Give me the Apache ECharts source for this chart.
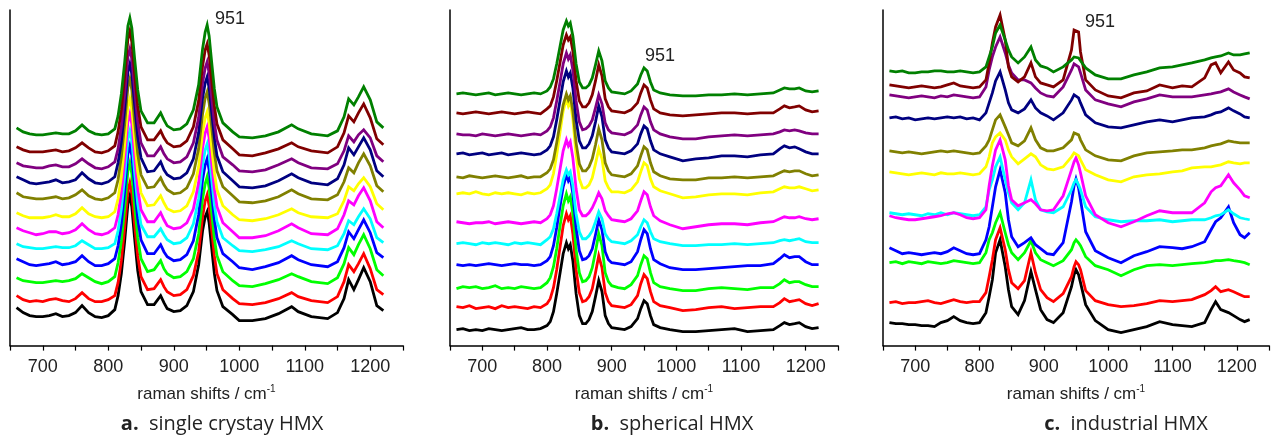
<!DOCTYPE html>
<html><head><meta charset="utf-8">
<script src="https://cdn.jsdelivr.net/npm/echarts@6/dist/echarts.min.js"></script>
<style>html,body{margin:0;padding:0;background:#fff}#c{width:1272px;height:437px}</style>
</head><body><div id="c"></div>
<script>
// ---------- series colours (bottom to top) ----------
const seriesNames = ['black','red','lime','blue','cyan','magenta','yellow','olive','navy','purple','darkred','green'];
const seriesColors = ['#000000','#ff0000','#00ff00','#0000ff','#00ffff','#ff00ff','#ffff00','#808000','#000080','#800080','#800000','#008000'];

// ---------- panel a : single crystal HMX ----------
const xA = [660,670,680,690,700,710,720,730,740,750,760,770,780,790,800,810,815,820,825,830,833,836,840,845,850,860,870,880,885,890,900,910,920,930,938,944,948,951,954,958,962,966,975,990,1000,1020,1040,1060,1080,1090,1110,1135,1150,1160,1167,1175,1182,1190,1200,1210,1220];
const offsetA = [29,44,63,81,97,112,128,147,163,178,194,211];
const a_black  = [9,4,1,0,0,1,3,0,1,4,11,4,0,-1,1,7,21,43,75,113,121,110,80,46,25,12,12,21,14,8,5,6,11,25,52,86,100,105,94,68,43,26,10,2,-4,-4,-2,3,10,5,0,-2,4,18,37,27,37,49,35,11,6];
const a_red    = [6,2,0,1,0,2,3,1,0,3,9,3,0,0,2,6,19,41,74,111,119,109,79,46,25,12,13,22,15,10,6,7,12,26,50,85,101,107,96,71,46,28,12,3,-2,-3,-1,3,9,5,1,-1,5,20,37,30,38,48,33,12,7];
const a_lime   = [5,2,1,0,0,1,2,1,2,4,9,5,1,-1,1,6,20,42,74,112,120,109,79,45,24,11,13,22,14,9,5,6,11,24,49,84,99,106,95,70,44,27,11,2,-3,-4,-1,3,9,6,1,-1,5,19,35,28,38,48,34,13,7];
const a_blue   = [6,3,0,-1,0,1,3,0,1,3,9,3,-1,-1,1,6,19,41,73,111,119,109,80,46,25,11,11,20,13,8,4,5,10,24,50,85,100,106,95,70,45,27,11,3,-3,-5,-2,2,9,5,0,-2,3,17,33,26,35,45,32,12,7];
const a_cyan   = [5,2,1,0,0,1,2,1,1,3,8,4,0,0,1,5,18,40,72,110,118,108,78,45,24,12,12,20,14,9,5,6,11,25,50,84,99,105,94,69,44,27,11,3,-2,-3,-1,2,8,5,0,-1,3,15,28,24,32,40,30,11,6];
const a_magenta= [6,3,1,-1,0,2,2,0,1,4,10,4,0,-1,1,6,19,41,74,112,120,110,80,45,24,12,12,21,14,8,5,6,11,25,51,86,101,107,96,70,45,27,11,2,-4,-4,-2,3,10,6,0,-1,5,19,33,29,38,46,33,12,6];
const a_yellow = [5,2,0,0,0,1,3,1,1,4,10,4,1,0,1,6,19,41,73,111,119,109,80,46,25,12,13,22,15,9,6,7,12,26,51,85,100,106,95,70,45,28,12,3,-2,-3,-1,3,9,5,1,0,4,17,31,27,34,40,31,14,8];
const a_olive  = [6,2,1,0,0,1,2,0,1,4,9,3,0,-1,1,6,19,42,74,112,120,109,79,45,24,11,12,21,14,9,5,6,11,25,50,85,101,107,96,71,46,28,12,3,-3,-4,-2,2,9,5,0,-1,4,17,31,26,36,45,33,13,7];
const a_navy   = [6,3,0,-1,0,1,3,0,1,3,10,4,0,-1,1,6,20,41,73,111,119,109,80,46,25,11,12,21,13,8,4,5,10,24,50,85,100,106,95,70,45,27,11,2,-4,-5,-3,2,9,5,0,-2,4,18,35,28,36,45,33,12,6];
const a_purple = [5,2,1,0,0,2,3,1,1,4,9,4,0,-1,1,6,19,41,73,111,119,109,80,46,25,12,12,21,14,9,5,6,11,25,50,85,100,106,95,70,45,28,11,3,-3,-4,-2,3,9,5,0,-1,4,17,32,26,33,38,30,12,6];
const a_darkred= [5,2,0,0,0,1,2,0,1,4,9,4,0,-1,1,6,20,42,75,113,121,110,80,46,25,12,12,21,14,9,5,6,11,25,51,86,102,108,97,71,46,28,12,3,-3,-4,-1,3,9,5,1,-1,5,19,36,30,39,48,34,13,7];
const a_green  = [7,3,1,0,0,1,2,1,1,4,10,4,1,0,1,6,19,41,72,109,117,107,78,45,24,12,12,22,15,9,5,6,11,25,50,86,103,110,99,72,46,28,12,3,-2,-3,-1,3,10,6,1,-1,4,18,36,30,38,48,35,13,7];

// ---------- panel b : spherical HMX ----------
const xB = [660,670,680,690,700,710,720,730,740,750,760,770,780,790,800,805,810,815,820,825,830,833,836,840,845,850,855,860,865,870,875,880,885,890,895,900,910,920,930,940,945,950,955,960,965,975,990,1010,1030,1050,1070,1090,1110,1130,1150,1160,1167,1175,1183,1190,1200,1210,1220];
const offsetB = [16,38,58,81,102,123,152,169,192,211,233,252];
const b_black  = [0,1,-1,0,-1,1,0,-1,0,1,2,0,0,1,4,8,18,36,56,76,87,81,85,69,36,14,6,6,10,18,33,49,38,14,6,2,1,0,3,11,21,29,26,14,5,2,0,-2,-2,-1,0,1,-2,-1,0,4,7,5,6,7,3,1,2];
const b_red    = [1,0,2,-1,0,1,-1,2,0,1,0,-1,1,0,4,9,20,38,60,82,94,88,92,74,38,15,6,7,11,19,35,52,40,15,6,2,1,0,3,12,24,33,29,16,6,2,0,-3,-2,0,1,-1,0,1,1,5,9,6,7,8,4,2,4];
const b_lime   = [-1,1,0,1,-1,0,2,-1,0,-1,1,0,-1,0,5,10,21,39,61,82,94,87,91,74,38,15,6,7,11,20,36,54,42,15,6,2,0,-1,3,12,23,32,29,15,5,1,-1,-3,-3,-1,0,-1,-2,0,0,4,8,5,6,6,3,1,1];
const b_blue   = [0,-1,0,-1,0,1,0,-1,0,1,0,0,-1,0,4,8,19,37,58,78,90,84,88,71,37,14,5,6,9,16,30,45,35,13,5,2,1,0,3,13,25,35,31,16,5,1,-3,-5,-5,-4,-3,-2,-1,-1,1,6,10,7,8,8,3,0,0];
const b_cyan   = [0,1,0,-1,1,0,1,0,-1,1,0,1,0,-1,4,7,15,30,47,64,74,69,72,58,30,12,5,5,8,13,22,32,25,10,5,2,1,0,3,9,17,24,21,12,5,2,0,-2,-2,-1,-1,0,-1,0,1,3,4,3,4,5,2,1,1];
const b_magenta= [1,0,-1,0,0,1,-1,0,1,0,-1,0,1,0,4,8,17,34,53,72,83,77,81,65,34,13,7,7,10,15,22,30,24,12,7,3,2,1,4,12,22,31,28,16,7,2,-2,-6,-4,-2,-1,-1,-2,0,1,4,6,5,5,6,4,3,4];
const b_yellow = [0,1,0,2,0,-1,1,0,1,0,-1,1,0,1,5,9,20,39,61,83,95,88,93,75,39,15,6,6,9,16,30,45,35,13,6,2,2,1,4,12,22,31,28,15,7,3,0,-4,-3,-1,0,0,-1,1,2,5,7,6,6,7,5,3,4];
const b_olive  = [0,-1,1,0,-1,0,1,0,-1,0,1,-1,0,0,4,8,17,34,53,72,83,77,81,66,34,13,6,6,10,18,32,48,37,14,6,2,1,0,3,11,21,30,27,14,5,1,-2,-3,-3,-1,-1,0,-1,0,1,4,6,5,6,6,3,1,2];
const b_navy   = [0,1,-1,0,1,-1,0,1,-1,0,1,0,-1,0,4,8,17,34,53,72,83,77,81,66,34,13,6,6,10,18,32,48,37,14,6,2,1,0,3,10,20,28,25,13,4,0,-3,-7,-5,-4,-2,-2,-3,-1,0,5,8,6,7,5,2,0,0];
const b_purple = [1,0,0,-1,1,0,-1,0,1,0,-1,0,1,0,4,8,17,34,52,71,82,76,80,65,34,13,5,6,9,15,27,40,31,12,5,2,1,0,3,10,20,28,25,13,5,1,-2,-4,-4,-2,-1,0,-1,0,1,3,5,4,5,4,2,1,1];
const b_darkred= [0,-1,0,1,0,-1,0,1,0,-1,0,1,0,-1,4,7,16,32,50,68,78,73,76,62,32,12,6,6,10,18,32,48,37,14,6,2,1,0,3,10,20,28,25,13,4,0,-2,-3,-2,-1,0,0,-1,0,0,4,7,5,6,7,3,1,2];
const b_green  = [0,1,0,-1,0,1,-1,0,1,0,-1,0,1,0,3,7,15,30,47,64,73,68,71,58,30,12,6,6,9,16,29,43,33,13,6,2,1,0,3,10,19,26,23,12,4,1,-1,-2,-2,-1,-1,0,-1,0,1,4,6,5,5,6,3,2,3];

// ---------- panel c : industrial HMX ----------
const xC = [660,670,680,690,700,710,720,730,740,750,760,770,780,790,800,810,815,820,825,832,840,845,850,860,870,880,887,895,905,915,930,943,947,950,954,957,965,980,1000,1020,1040,1060,1080,1100,1115,1130,1150,1160,1167,1175,1187,1195,1205,1212,1220];
const offsetC = [21,43,83,92,131,128,172,193,228,249,259,274];
const c_black  = [2,1,1,0,0,-1,-1,-2,2,4,8,4,2,1,2,12,28,45,72,85,58,35,18,10,24,53,35,15,5,2,12,38,50,55,50,42,20,4,-5,-8,-5,-2,3,0,-1,-2,2,15,23,15,12,9,5,3,5];
const c_red    = [0,1,-1,0,0,1,2,0,-1,1,3,1,0,1,1,10,26,43,63,75,53,33,20,14,22,50,30,13,5,1,9,26,36,41,38,33,12,2,-2,-4,-3,-1,2,1,2,3,8,12,16,11,13,11,8,6,6];
const c_lime   = [0,1,-1,1,0,-1,1,0,-1,0,2,1,0,-1,0,10,23,30,40,50,30,18,10,3,10,22,10,3,0,-3,2,13,20,23,20,17,6,-3,-7,-13,-7,-3,-2,-3,-2,-1,0,1,2,2,3,2,1,0,-2];
const c_blue   = [6,3,0,1,0,-1,0,1,0,2,6,3,0,-1,0,14,27,47,67,84,61,34,17,7,11,16,9,5,0,-1,11,52,68,75,66,54,22,3,-4,-9,-2,2,7,6,5,7,12,24,32,36,47,31,19,16,21];
const c_cyan   = [2,1,0,1,0,-1,1,0,2,0,2,1,0,-1,0,8,25,35,48,58,35,22,12,5,12,35,15,5,3,2,8,25,32,35,30,25,8,-2,-5,-7,-6,-6,-5,-7,-6,-5,-5,-3,-1,0,5,1,-3,-4,-5];
const c_magenta= [2,0,-1,-2,-2,-1,0,1,2,4,5,3,0,-1,0,8,32,52,68,78,58,32,18,12,15,18,14,8,7,8,22,48,56,60,53,45,22,3,-5,-9,-4,2,7,5,5,5,15,26,30,32,43,35,28,22,20];
const c_yellow = [2,1,0,-1,0,1,0,-1,1,0,0,1,0,-1,0,7,17,31,37,41,34,24,17,10,15,20,17,9,5,4,7,17,21,22,18,14,4,-1,-6,-8,-3,-1,0,2,3,6,7,7,8,9,12,11,10,11,11];
const c_olive  = [2,1,0,1,0,-1,0,1,2,1,2,1,0,-1,0,7,13,23,33,38,26,18,10,7,12,25,13,5,2,2,5,13,20,22,18,13,3,-3,-7,-8,-3,0,1,2,3,3,5,7,8,9,12,11,10,10,10];
const c_navy   = [0,1,-1,0,-2,-1,0,-1,0,1,0,1,-1,0,-2,5,15,25,37,46,28,15,8,5,9,18,10,5,2,-2,5,18,23,25,20,15,3,-5,-9,-10,-7,-4,-2,-4,-2,0,1,3,5,6,10,7,4,1,0];
const c_purple = [2,1,0,-1,0,1,0,-1,1,0,2,1,0,-1,0,10,27,40,50,60,44,32,24,17,17,14,9,4,1,0,10,27,33,35,30,24,7,-3,-7,-10,-5,-2,2,0,0,0,2,3,4,5,8,5,2,0,-2];
const c_darkred= [2,1,0,-1,0,1,0,-1,0,2,4,1,0,-1,0,7,24,44,60,72,47,20,10,5,10,24,10,4,2,0,7,37,57,58,55,35,7,-3,-9,-11,-6,-4,2,-1,1,0,9,22,24,14,25,17,14,10,9];
const c_green  = [1,0,1,-1,-1,0,0,1,1,0,0,1,0,-1,0,5,15,25,39,47,32,22,15,9,15,25,12,6,4,0,5,12,15,17,14,12,4,-3,-7,-7,-3,0,4,5,7,9,12,14,15,16,19,17,17,18,19];

// ---------- labels ----------
const tickLabels = [700,800,900,1000,1100,1200];
const axisTitle = 'raman shifts / cm';
const panelTitles = [['a.','single crystay HMX'],['b.','spherical HMX'],['c.','industrial HMX']];
const peakLabel = '951';

// ---------- build ----------
const panels = [
  {x:xA, off:offsetA, s:[a_black,a_red,a_lime,a_blue,a_cyan,a_magenta,a_yellow,a_olive,a_navy,a_purple,a_darkred,a_green]},
  {x:xB, off:offsetB, s:[b_black,b_red,b_lime,b_blue,b_cyan,b_magenta,b_yellow,b_olive,b_navy,b_purple,b_darkred,b_green]},
  {x:xC, off:offsetC, s:[c_black,c_red,c_lime,c_blue,c_cyan,c_magenta,c_yellow,c_olive,c_navy,c_purple,c_darkred,c_green]}
];
const NARROW = "'Liberation Sans Narrow','Arial Narrow','Liberation Sans',Arial,sans-serif";
const gridDefs = [
  {left:10, top:10, width:393, height:335.6},
  {left:450, top:10, width:388, height:335.6},
  {left:883, top:10, width:392.4, height:335.6}
];
const series = [];
panels.forEach((p, gi) => {
  p.s.forEach((vals, si) => {
    series.push({
      type:'line', name: seriesNames[si] + gi, xAxisIndex: gi, yAxisIndex: gi,
      showSymbol:false, symbol:'none', silent:true, animation:false,
      lineStyle:{color:seriesColors[si], width:2.8, join:'miter'},
      data: p.x.map((x,k)=>[x, vals[k] + p.off[si]])
    });
  });
});
const xAxes = gridDefs.map((g,i)=>({
  gridIndex:i, type:'value', min:650, max:1250, interval:50,
  axisLine:{lineStyle:{color:'#000', width:1.5}},
  axisTick:{show:true, length:5, lineStyle:{color:'#000', width:1.2}},
  axisLabel:{formatter: v => tickLabels.indexOf(v) >= 0 ? String(v) : '', fontSize:18, fontFamily:NARROW, color:'#222', margin:12},
  splitLine:{show:false},
  name: axisTitle + '{sup|-1}', nameLocation:'middle', nameGap:39,
  nameTextStyle:{fontSize:17, fontFamily:NARROW, color:'#222', rich:{sup:{fontSize:10, fontFamily:NARROW, color:'#222', verticalAlign:'top', lineHeight:20}}}
}));
const yAxes = gridDefs.map((g,i)=>({
  gridIndex:i, type:'value', min:0, max:336,
  axisLine:{show:true, lineStyle:{color:'#000', width:1.5}},
  axisTick:{show:false}, axisLabel:{show:false}, splitLine:{show:false}
}));
const subPos = [[222,424],[672,424],[1126,424]];
const peakPos = [[230,19],[660,56],[1100,22]];
const graphic = [];
panelTitles.forEach((t,i)=>{
  graphic.push({type:'text', silent:true, style:{
    text:'{b|'+t[0]+'}  '+t[1], x:subPos[i][0], y:subPos[i][1], align:'center', verticalAlign:'middle',
    fontSize:20, fontFamily:"'Open Sans'", fill:'#222',
    rich:{b:{fontWeight:'bold', fontSize:20, fontFamily:"'Open Sans'", fill:'#222'}}
  }});
  graphic.push({type:'text', silent:true, style:{
    text:peakLabel, x:peakPos[i][0], y:peakPos[i][1], align:'center', verticalAlign:'middle',
    fontSize:18, fontFamily:NARROW, fill:'#222'
  }});
});
const chart = echarts.init(document.getElementById('c'));
chart.setOption({
  animation:false, backgroundColor:'#fff',
  grid: gridDefs, xAxis: xAxes, yAxis: yAxes, series: series, graphic: graphic
});
</script></body></html>
